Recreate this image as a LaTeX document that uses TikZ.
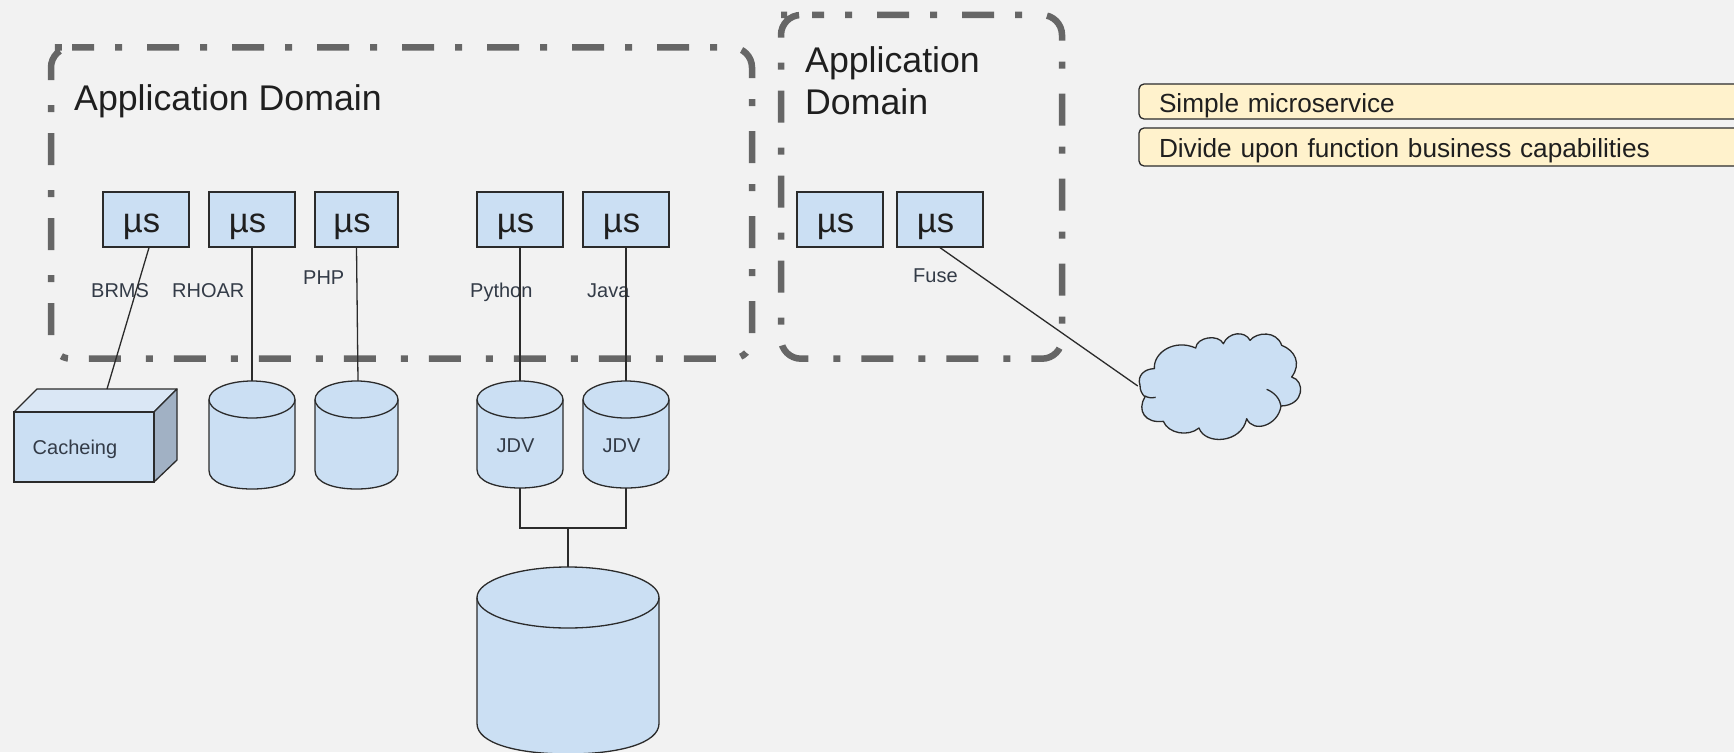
\documentclass[tikz,border=0pt]{standalone}
\usepackage{fontspec}
\setmainfont{Liberation Sans}
\definecolor{bgc}{HTML}{F2F2F2}
\definecolor{bluef}{HTML}{CBDFF3}
\definecolor{bluet}{HTML}{DAE7F5}
\definecolor{blues}{HTML}{A1B1C4}
\definecolor{yell}{HTML}{FFF2CC}
\definecolor{linec}{HTML}{2B2B2B}
\definecolor{dom}{HTML}{666666}
\definecolor{txt}{HTML}{1F1F1F}
\definecolor{txts}{HTML}{333B47}
\tikzset{
  x=1pt,y=-1pt,
  domainline/.style={draw=dom,line width=6.5pt,dash pattern=on 32pt off 21pt on 7pt off 25pt,dash phase=29pt,rounded corners=20pt},
  msbox/.style={draw=linec,fill=bluef,line width=1.3pt,inner sep=0pt,font=\fontsize{34.6}{38}\selectfont,text=txt,text height=25pt,text depth=0pt},
  conn/.style={draw=linec,line width=1.3pt},
  solid shape/.style={draw=linec,line width=1.3pt,fill=bluef,line join=round},
  lab/.style={inner sep=0pt,anchor=base west,font=\fontsize{20}{24}\selectfont,text=txts},
  big/.style={inner sep=0pt,anchor=base west,font=\fontsize{35.7}{42}\selectfont,text=txt},
  bar/.style={draw=linec,fill=yell,line width=1.3pt,rounded corners=5pt,inner xsep=20pt,inner ysep=0pt,text width=566pt,align=left,font=\fontsize{26.2}{30}\selectfont,text=txt,text depth=0pt},
  hold/.style={inner sep=0pt,font=\fontsize{20}{24}\selectfont,text=txts,text depth=0pt}
}
% name, left, right, top, bottom, ry, text-height, text
\newcommand{\cylshape}[8]{%
  \path[solid shape] (#2,#3+#5) -- (#2,#4-#5) arc[start angle=180,end angle=360,x radius={(#3-#2)/2},y radius=-#5] -- (#3,#3+#5);
}
\newcommand{\drawcyl}[8]{%
  \path[solid shape] (#2,#4+#6) -- (#2,#5-#6) .. controls (#2,#5-#6*0.35) and (#2+#3*0.22,#5) .. (#2+#3*0.5,#5) .. controls (#2+#3*0.78,#5) and (#2+#3,#5-#6*0.35) .. (#2+#3,#5-#6) -- (#2+#3,#4+#6) .. controls (#2+#3,#4+#6*0.45) and (#2+#3*0.78,#4) .. (#2+#3*0.5,#4) .. controls (#2+#3*0.22,#4) and (#2,#4+#6*0.45) .. (#2,#4+#6) -- cycle;
  \path[solid shape,fill=none] (#2,#4+#6) .. controls (#2,#4+#6*1.55) and (#2+#3*0.22,#4+2*#6) .. (#2+#3*0.5,#4+2*#6) .. controls (#2+#3*0.78,#4+2*#6) and (#2+#3,#4+#6*1.55) .. (#2+#3,#4+#6);
  \node[hold,minimum width=#3 pt,minimum height={(#5-#4)*1pt},text height=#7pt] (#1) at (#2+#3*0.5,#4*0.5+#5*0.5) {#8};
}
\begin{document}
\begin{tikzpicture}
\useasboundingbox[fill=bgc] (0,0) rectangle (1734,752);
% domains
\path[domainline] (71,47.5) -- (752,47.5) -- (752,358.7) -- (51,358.7) -- (51,47.5) -- cycle;
\path[domainline] (801,15) -- (1062,15) -- (1062,358.7) -- (781,358.7) -- (781,15) -- cycle;
\node[big] (t1) at (74,110) {Application Domain};
\node[big,anchor=base west] (t2a) at (805,72) {Application};
\node[big] (t2b) at (805,114) {Domain};
% labels
\node[lab] (brms) at (91,297) {BRMS};
\node[lab] (rhoar) at (172,297) {RHOAR};
\node[lab] (php) at (303,284) {PHP};
\node[lab] (python) at (470,297) {Python};
\node[lab] (java) at (587,297) {Java};
\node[lab] (fuse) at (913,282) {Fuse};
% microservices
\node[msbox,minimum width=86pt,minimum height=55pt] (m1) at (146,219.5) {µs\kern9pt};
\node[msbox,minimum width=86pt,minimum height=55pt] (m2) at (252,219.5) {µs\kern9pt};
\node[msbox,minimum width=83pt,minimum height=55pt] (m3) at (356.5,219.5) {µs\kern9pt};
\node[msbox,minimum width=86pt,minimum height=55pt] (m4) at (520,219.5) {µs\kern9pt};
\node[msbox,minimum width=86pt,minimum height=55pt] (m5) at (626,219.5) {µs\kern9pt};
\node[msbox,minimum width=86pt,minimum height=55pt] (m6) at (840,219.5) {µs\kern9pt};
\node[msbox,minimum width=86pt,minimum height=55pt] (m7) at (940,219.5) {µs\kern9pt};
% cache
\path[solid shape,fill=bluet] (14,412) -- (37,389) -- (177,389) -- (154,412) -- cycle;
\path[solid shape,fill=blues] (154,412) -- (177,389) -- (177,460) -- (154,482) -- cycle;
\node[hold,draw=linec,line width=1.3pt,fill=bluef,minimum width=140pt,minimum height=70pt,text height=14pt] (cache) at (84,447) {Cacheing\kern18pt};
\coordinate (cachetop) at (107,389);
% cylinders
\drawcyl{c2}{209}{86}{381}{489}{18.5}{0}{}
\drawcyl{c3}{315}{83}{381}{489}{18.5}{0}{}
\drawcyl{c4}{477}{86}{381}{488}{18.5}{35}{JDV\kern9pt}
\drawcyl{c5}{583}{86}{381}{488}{18.5}{35}{JDV\kern9pt}
\drawcyl{big}{477}{182}{567}{754}{30.5}{0}{}
% bars
\node[bar,minimum height=35pt,text height=21pt] (b1) at (1442,101.5) {Simple microservice};
\node[bar,minimum height=38pt,text height=20pt] (b2) at (1442,147) {Divide upon function business capabilities};
% cloud
\begin{scope}[shift={(1125,322)},x=0.33333pt,y=-0.33333pt]
\path[solid shape] (45,190)
  .. controls (35,160) and (60,140) .. (88,140)
  .. controls (85,90) and (150,50) .. (212,78)
  .. controls (215,45) and (280,35) .. (295,65)
  .. controls (310,30) and (360,25) .. (375,55)
  .. controls (395,30) and (455,25) .. (470,70)
  .. controls (510,85) and (530,125) .. (500,165)
  .. controls (540,175) and (540,250) .. (468,252)
  .. controls (460,310) and (385,335) .. (365,290)
  .. controls (350,365) and (240,370) .. (222,318)
  .. controls (190,345) and (130,335) .. (115,298)
  .. controls (60,305) and (35,265) .. (60,225)
  .. controls (50,215) and (45,205) .. (45,190) -- cycle;
\path[solid shape,fill=none] (60,222) .. controls (70,228) and (80,228) .. (92,226);
\path[solid shape,fill=none] (425,202) .. controls (450,212) and (465,232) .. (468,252);
\end{scope}
\node[inner sep=0pt,minimum width=166pt,minimum height=106pt] (cloud) at (1221,386) {};
% connectors
\draw[conn] ([xshift=3pt]m1.south) -- (cachetop);
\draw[conn] (m2.south) -- (c2.north);
\draw[conn] (m3.south) -- ([xshift=1.5pt]c3.north);
\draw[conn] (m4.south) -- (c4.north);
\draw[conn] (m5.south) -- (c5.north);
\draw[conn] (m7.south) -- (cloud.west);
\coordinate (j) at (568,528);
\draw[conn] (c4.south) |- (j);
\draw[conn] (c5.south) |- (j);
\draw[conn] (j) -- (big.north);
\end{tikzpicture}
\end{document}
